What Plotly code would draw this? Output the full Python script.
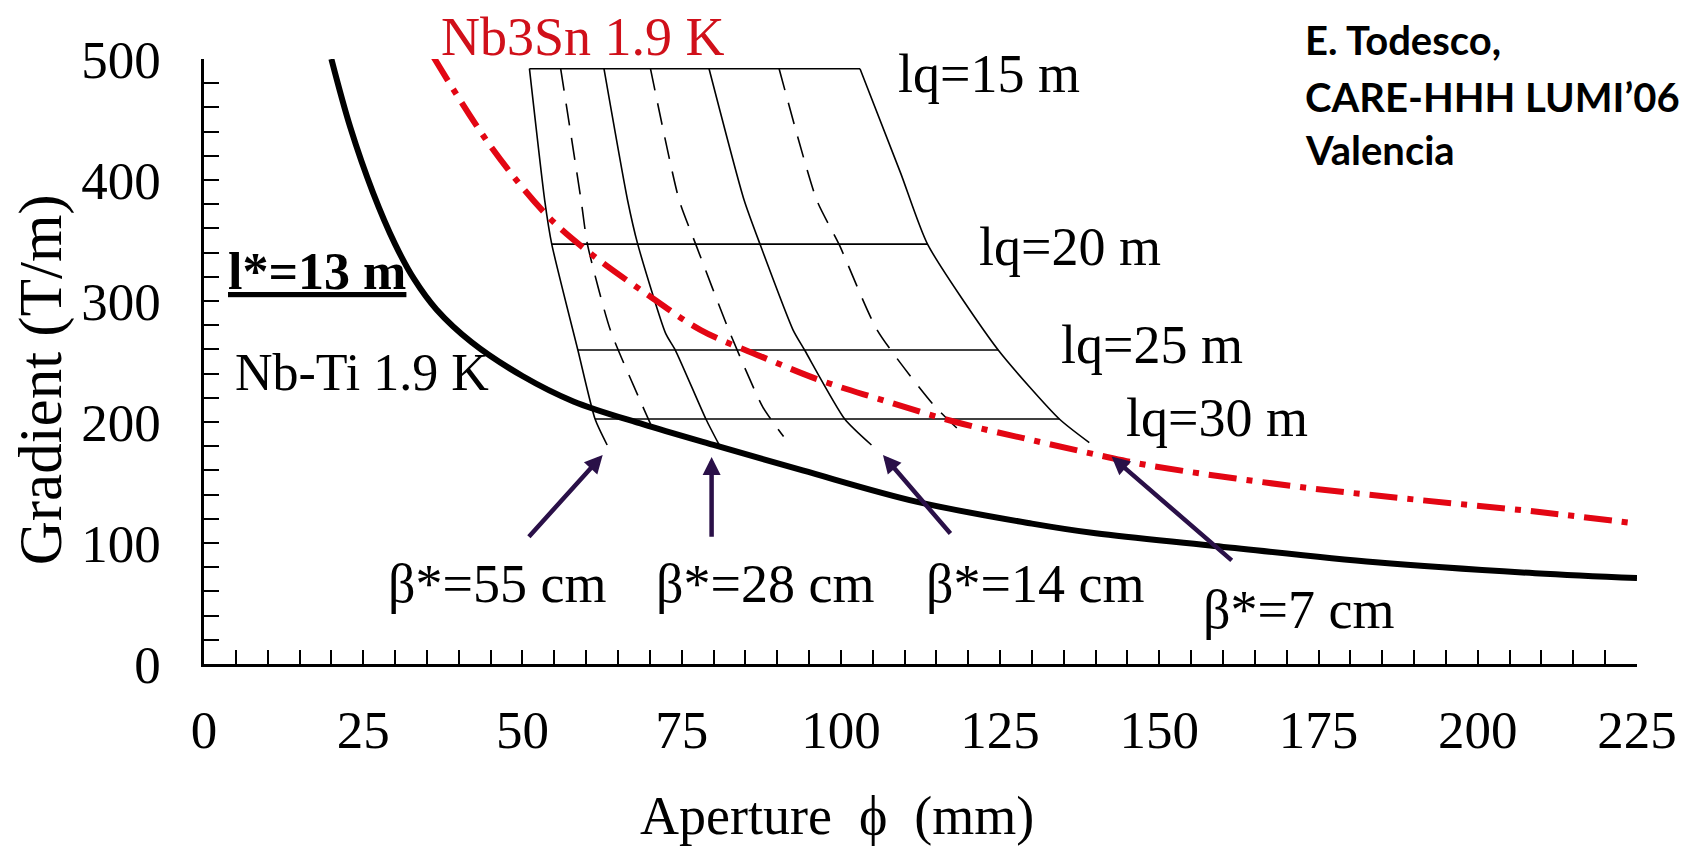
import plotly.graph_objects as go

# ---------------- data ----------------
nbti_x = [20, 23, 26.5, 30, 33, 36.5, 42, 50, 58, 69, 80, 94, 112, 130, 140, 158, 184, 209, 225]
nbti_y = [500, 443, 390, 347, 318, 293, 266, 238, 217, 198, 181, 160, 134, 116, 108, 98, 84, 75, 71]

nb3sn_x = [36, 45, 54, 61, 70, 78, 88, 97, 106, 118, 130, 141, 148.5, 171, 190, 209, 225]
nb3sn_y = [502, 428, 370, 338, 304, 276, 253, 234, 219, 200, 185, 172, 164, 147, 136, 126, 116]

# beta* curves (solid: 55, 28, 14, 7 cm ; dashed: intermediate)
b55_x = [51.1, 53.5, 54.6, 58.7, 61.4, 63.3]
b55_y = [492, 383, 347, 259.5, 202.5, 181]
d1_x = [56.0, 59.2, 60.2, 63.8, 68.9, 71.0]
d1_y = [492, 383.5, 347, 276, 212.7, 188]
b28_x = [62.8, 66.5, 68.1, 72.5, 74.0, 78.8, 80.9]
b28_y = [492, 383.5, 347, 273, 259.5, 202.5, 181]
d2_x = [70.1, 74.6, 77.2, 82.4, 87.7, 91.0]
d2_y = [492, 383.5, 347, 276, 212.7, 188]
b14_x = [79.3, 84.8, 87.3, 92.5, 94.3, 100.6, 104.8]
b14_y = [492, 383.5, 347, 276, 259.5, 202.5, 181]
d3_x = [90.3, 96.2, 99.7, 105.7, 114.4, 119.0]
d3_y = [492, 383.5, 347, 276, 215, 191]
b7_x = [103, 109.4, 113.6, 124.7, 134.3, 139]
b7_y = [492, 405.5, 347, 259.5, 202.5, 183]

# lq = const horizontal lines
lq_labels = ["lq=15 m", "lq=20 m", "lq=25 m", "lq=30 m"]
lq_level = [492, 347, 259.5, 202.5]
lq_x_start = [51.1, 54.6, 58.7, 61.4]
lq_x_end = [103, 113.6, 124.7, 134.3]
lq_label_x = [108.6, 121.3, 134.3, 144.5]
lq_label_y = [488, 345, 264, 203]

# arrows (tail -> tip)
beta_labels = ["β*=55 cm", "β*=28 cm", "β*=14 cm", "β*=7 cm"]
arrow_tail_x = [50.8, 79.7, 117.4, 161.6]
arrow_tail_y = [104, 104, 106.6, 84.6]
arrow_tip_x = [62.6, 79.7, 106.6, 142.5]
arrow_tip_y = [172.7, 171, 172.7, 171.4]
beta_label_x = [28.6, 70.6, 113.0, 156.5]
beta_label_y = [66, 66, 66, 45]

x_ticks = [0, 25, 50, 75, 100, 125, 150, 175, 200, 225]
y_ticks = [0, 100, 200, 300, 400, 500]

# ---------------- figure ----------------
SERIF = "Liberation Serif"
BLACK = "#000000"
RED = "#e30613"
ARROW = "#2a1048"
NB = "\u00a0"

fig = go.Figure()

thin = dict(color=BLACK, width=1.6)
for xs, ys, dash in [(b55_x, b55_y, "solid"), (d1_x, d1_y, "22px,13px"),
                     (b28_x, b28_y, "solid"), (d2_x, d2_y, "22px,13px"),
                     (b14_x, b14_y, "solid"), (d3_x, d3_y, "22px,13px"),
                     (b7_x, b7_y, "solid")]:
    fig.add_trace(go.Scatter(x=xs, y=ys, mode="lines",
                             line=dict(color=BLACK, width=1.6, dash=dash, shape="spline", smoothing=0.6),
                             hoverinfo="skip", showlegend=False))

for yl, x0, x1 in zip(lq_level, lq_x_start, lq_x_end):
    fig.add_trace(go.Scatter(x=[x0, x1], y=[yl, yl], mode="lines", line=thin,
                             hoverinfo="skip", showlegend=False))

fig.add_trace(go.Scatter(x=nbti_x, y=nbti_y, mode="lines",
                         line=dict(color=BLACK, width=6, shape="spline", smoothing=1.0),
                         showlegend=False, name="Nb-Ti 1.9 K"))
fig.add_trace(go.Scatter(x=nb3sn_x, y=nb3sn_y, mode="lines",
                         line=dict(color=RED, width=6, dash="28px,10px,6px,10px", shape="spline", smoothing=1.0),
                         showlegend=False, name="Nb3Sn 1.9 K"))

annotations = []
for tx, ty, hx, hy in zip(arrow_tail_x, arrow_tail_y, arrow_tip_x, arrow_tip_y):
    annotations.append(dict(x=hx, y=hy, ax=tx, ay=ty, xref="x", yref="y", axref="x", ayref="y",
                            text="", showarrow=True, arrowhead=2, arrowsize=0.8, arrowwidth=4.5,
                            arrowcolor=ARROW, standoff=0))

lab_font = dict(family=SERIF, size=54, color=BLACK)
for lab, lx, ly in zip(lq_labels, lq_label_x, lq_label_y):
    annotations.append(dict(x=lx, y=ly, xref="x", yref="y", text=lab, showarrow=False,
                            xanchor="left", yanchor="middle", font=lab_font))
for lab, lx, ly in zip(beta_labels, beta_label_x, beta_label_y):
    annotations.append(dict(x=lx, y=ly, xref="x", yref="y", text=lab, showarrow=False,
                            xanchor="left", yanchor="middle", font=lab_font))

annotations.append(dict(x=0.1637, y=1.036, xref="paper", yref="paper", text="Nb3Sn 1.9 K", showarrow=False,
                        xanchor="left", yanchor="middle", font=dict(family=SERIF, size=54, color="#d0101a")))
annotations.append(dict(x=4.5, y=241, xref="x", yref="y", text="Nb-Ti 1.9 K", showarrow=False,
                        xanchor="left", yanchor="middle", font=dict(family=SERIF, size=52, color=BLACK)))
annotations.append(dict(x=3.4, y=324, xref="x", yref="y", text="<b><u>l*=13 m</u></b>", showarrow=False,
                        xanchor="left", yanchor="middle", font=dict(family=SERIF, size=52, color=BLACK)))

# axis titles
annotations.append(dict(x=0.442, y=-0.252, xref="paper", yref="paper",
                        text="Aperture" + NB + " ϕ" + NB + " (mm)",
                        showarrow=False, xanchor="center", yanchor="middle",
                        font=dict(family=SERIF, size=54, color=BLACK)))
annotations.append(dict(x=-0.114, y=0.470, xref="paper", yref="paper", text="Gradient (T/m)",
                        showarrow=False, xanchor="center", yanchor="middle", textangle=-90,
                        font=dict(family=SERIF, size=61, color=BLACK)))

# credit
cred = dict(family="Lato", size=40, color=BLACK)
for line, py in zip(["<b>E. Todesco,</b>", "<b>CARE-HHH LUMI’06</b>", "<b>Valencia</b>"],
                    [1.031, 0.937, 0.850]):
    annotations.append(dict(x=0.7667, y=py, xref="paper", yref="paper", text=line, showarrow=False,
                            xanchor="left", yanchor="middle", font=cred))

fig.update_layout(
    width=1689, height=854,
    margin=dict(l=204, r=49, t=59, b=190),
    paper_bgcolor="white", plot_bgcolor="white",
    annotations=annotations,
    showlegend=False,
)
tick_font = dict(family=SERIF, size=53, color=BLACK)
fig.update_xaxes(range=[0, 225], tickvals=x_ticks, ticktext=[str(v) for v in x_ticks],
                 ticks="inside", ticklen=14, tickwidth=2, tickcolor=BLACK,
                 minor=dict(dtick=5, tick0=0, ticks="inside", ticklen=14, tickwidth=2, tickcolor=BLACK),
                 showline=True, linecolor=BLACK, linewidth=2.5, showgrid=False, zeroline=False,
                 tickfont=tick_font, ticklabelstandoff=18)
fig.update_yaxes(range=[0, 500], tickvals=y_ticks, ticktext=[str(v) for v in y_ticks],
                 ticks="inside", ticklen=15, tickwidth=2, tickcolor=BLACK,
                 minor=dict(dtick=20, tick0=0, ticks="inside", ticklen=15, tickwidth=2, tickcolor=BLACK),
                 showline=True, linecolor=BLACK, linewidth=2.5, showgrid=False, zeroline=False,
                 tickfont=tick_font, ticklabelstandoff=30)

fig.write_html("out.html")
